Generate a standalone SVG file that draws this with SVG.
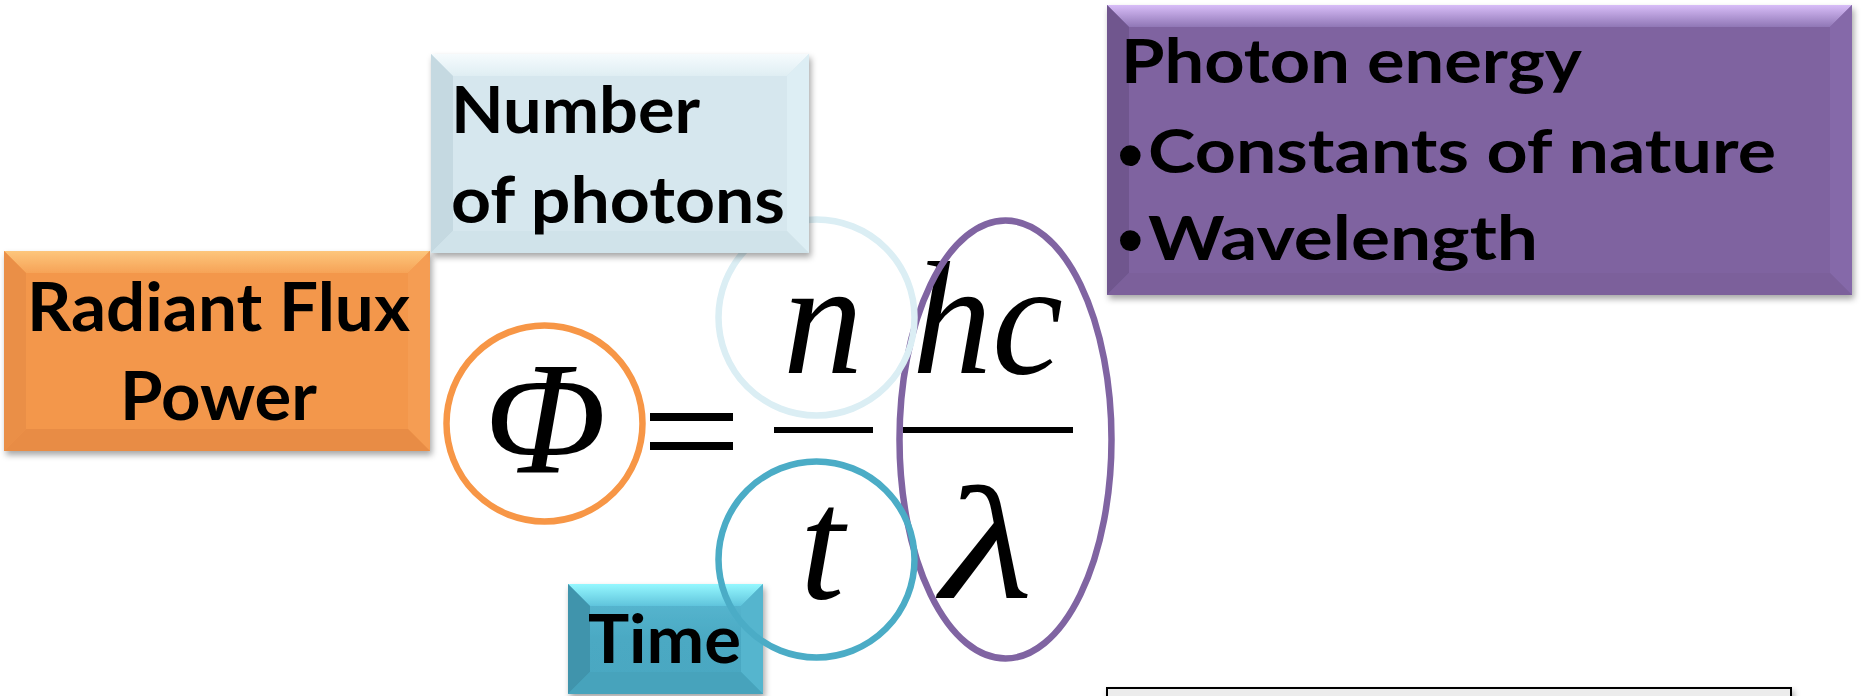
<svg xmlns="http://www.w3.org/2000/svg" width="1861" height="696" viewBox="0 0 1861 696">
<style>
.lbl{font-family:Lato,"Open Sans","Liberation Sans",sans-serif;font-weight:bold;fill:#000}
.bul{font-family:"Liberation Sans",Arial,sans-serif;font-size:76px;fill:#000}
.m{font-family:"Liberation Serif","Times New Roman",serif;font-style:italic;fill:#000;font-size:160px}
.ring{fill:none;stroke-width:6.5}
</style>
<defs>
<filter id="sh" x="-10%" y="-10%" width="125%" height="135%">
<feDropShadow dx="2" dy="4" stdDeviation="3" flood-color="#000" flood-opacity="0.35"/>
</filter>
<linearGradient id="oT" x1="0" y1="0" x2="0" y2="1"><stop offset="0" stop-color="#fdc67c"/><stop offset="1" stop-color="#f6a357"/></linearGradient>
<linearGradient id="bT" x1="0" y1="0" x2="0" y2="1"><stop offset="0" stop-color="#f6fbfd"/><stop offset="1" stop-color="#dfeef3"/></linearGradient>
<linearGradient id="pT" x1="0" y1="0" x2="0" y2="1"><stop offset="0" stop-color="#d8bdf8"/><stop offset="1" stop-color="#9077b6"/></linearGradient>
<linearGradient id="tT" x1="0" y1="0" x2="0" y2="1"><stop offset="0" stop-color="#95f8ff"/><stop offset="1" stop-color="#60c4dc"/></linearGradient>
<linearGradient id="tM" x1="0" y1="0" x2="0" y2="1"><stop offset="0" stop-color="#5abbd4"/><stop offset="0.5" stop-color="#4ba9c3"/><stop offset="1" stop-color="#4aa7c1"/></linearGradient>
</defs>

<g id="time-box" filter="url(#sh)">
<rect x="568" y="584" width="195" height="110" fill="url(#tM)"/>
<polygon points="568,584 763,584 741,606 590,606" fill="url(#tT)"/>
<polygon points="568,584 590,606 590,672 568,694" fill="#3f94ac"/>
<polygon points="763,584 763,694 741,672 741,606" fill="#55b5ce"/>
<polygon points="568,694 590,672 741,672 763,694" fill="#46a3bc"/>
<text class="lbl" x="588" y="663" font-size="67" textLength="153" lengthAdjust="spacingAndGlyphs">Time</text>
</g>

<g id="equation">
<text class="m" x="484" y="472" font-size="184" textLength="122" lengthAdjust="spacingAndGlyphs">Φ</text>
<rect x="650" y="413" width="83" height="8"/>
<rect x="650" y="442" width="83" height="8"/>
<text class="m" x="783" y="373">n</text>
<rect x="774" y="427" width="99" height="6"/>
<text class="m" x="800" y="598">t</text>
<text class="m" x="912" y="373">hc</text>
<rect x="903" y="427" width="170" height="6"/>
<text class="m" x="941" y="598" textLength="92" lengthAdjust="spacingAndGlyphs">λ</text>
</g>

<g id="phi-ring"><circle class="ring" cx="544.5" cy="423.5" r="98" stroke="#f79646"/></g>
<g id="lambda-ring"><ellipse class="ring" cx="1005.5" cy="439.5" rx="106" ry="219" stroke="#8064a2"/></g>
<g id="n-ring"><circle class="ring" cx="816.5" cy="317.5" r="98" stroke="#dbeef4"/></g>
<g id="t-ring"><circle class="ring" cx="816.5" cy="559.5" r="98" stroke="#4bacc6"/></g>

<g id="radiant-flux" filter="url(#sh)">
<rect x="4" y="251" width="426" height="200" fill="#f3974b"/>
<polygon points="4,251 430,251 408,273 26,273" fill="url(#oT)"/>
<polygon points="4,251 26,273 26,429 4,451" fill="#ea8f46"/>
<polygon points="430,251 430,451 408,429 408,273" fill="#f59d52"/>
<polygon points="4,451 26,429 408,429 430,451" fill="#e88c44"/>
<text class="lbl" x="27" y="331" font-size="67" textLength="383" lengthAdjust="spacingAndGlyphs">Radiant Flux</text>
<text class="lbl" x="120" y="420" font-size="67" textLength="197" lengthAdjust="spacingAndGlyphs">Power</text>
</g>

<g id="number-of-photons" filter="url(#sh)">
<rect x="431" y="54" width="378" height="199" fill="#d6e7ee"/>
<polygon points="431,54 809,54 787,76 453,76" fill="url(#bT)"/>
<polygon points="431,54 453,76 453,231 431,253" fill="#c5d9e1"/>
<polygon points="809,54 809,253 787,231 787,76" fill="#ddeef4"/>
<polygon points="431,253 453,231 787,231 809,253" fill="#d0e3ea"/>
<text class="lbl" x="451" y="133" font-size="65" textLength="249" lengthAdjust="spacingAndGlyphs">Number</text>
<text class="lbl" x="451" y="223" font-size="65" textLength="334" lengthAdjust="spacingAndGlyphs">of photons</text>
</g>

<g id="photon-energy" filter="url(#sh)">
<rect x="1107" y="5" width="745" height="290" fill="#7f64a0"/>
<polygon points="1107,5 1852,5 1830,27 1129,27" fill="url(#pT)"/>
<polygon points="1107,5 1129,27 1129,273 1107,295" fill="#6f568e"/>
<polygon points="1852,5 1852,295 1830,273 1830,27" fill="#8569a9"/>
<polygon points="1107,295 1129,273 1830,273 1852,295" fill="#7b609b"/>
<text class="lbl" x="1121" y="83" font-size="62" textLength="461" lengthAdjust="spacingAndGlyphs">Photon energy</text>
<text class="bul" x="1117" y="181">•</text>
<text class="lbl" x="1148" y="173" font-size="62" textLength="628" lengthAdjust="spacingAndGlyphs">Constants of nature</text>
<text class="bul" x="1117" y="266">•</text>
<text class="lbl" x="1148" y="260" font-size="62" textLength="390" lengthAdjust="spacingAndGlyphs">Wavelength</text>
</g>

<g id="bottom-box" filter="url(#sh)">
<rect x="1107" y="688" width="684" height="20" fill="#ececec" stroke="#000" stroke-width="2"/>
</g>

<g id="connectors"/>
</svg>
